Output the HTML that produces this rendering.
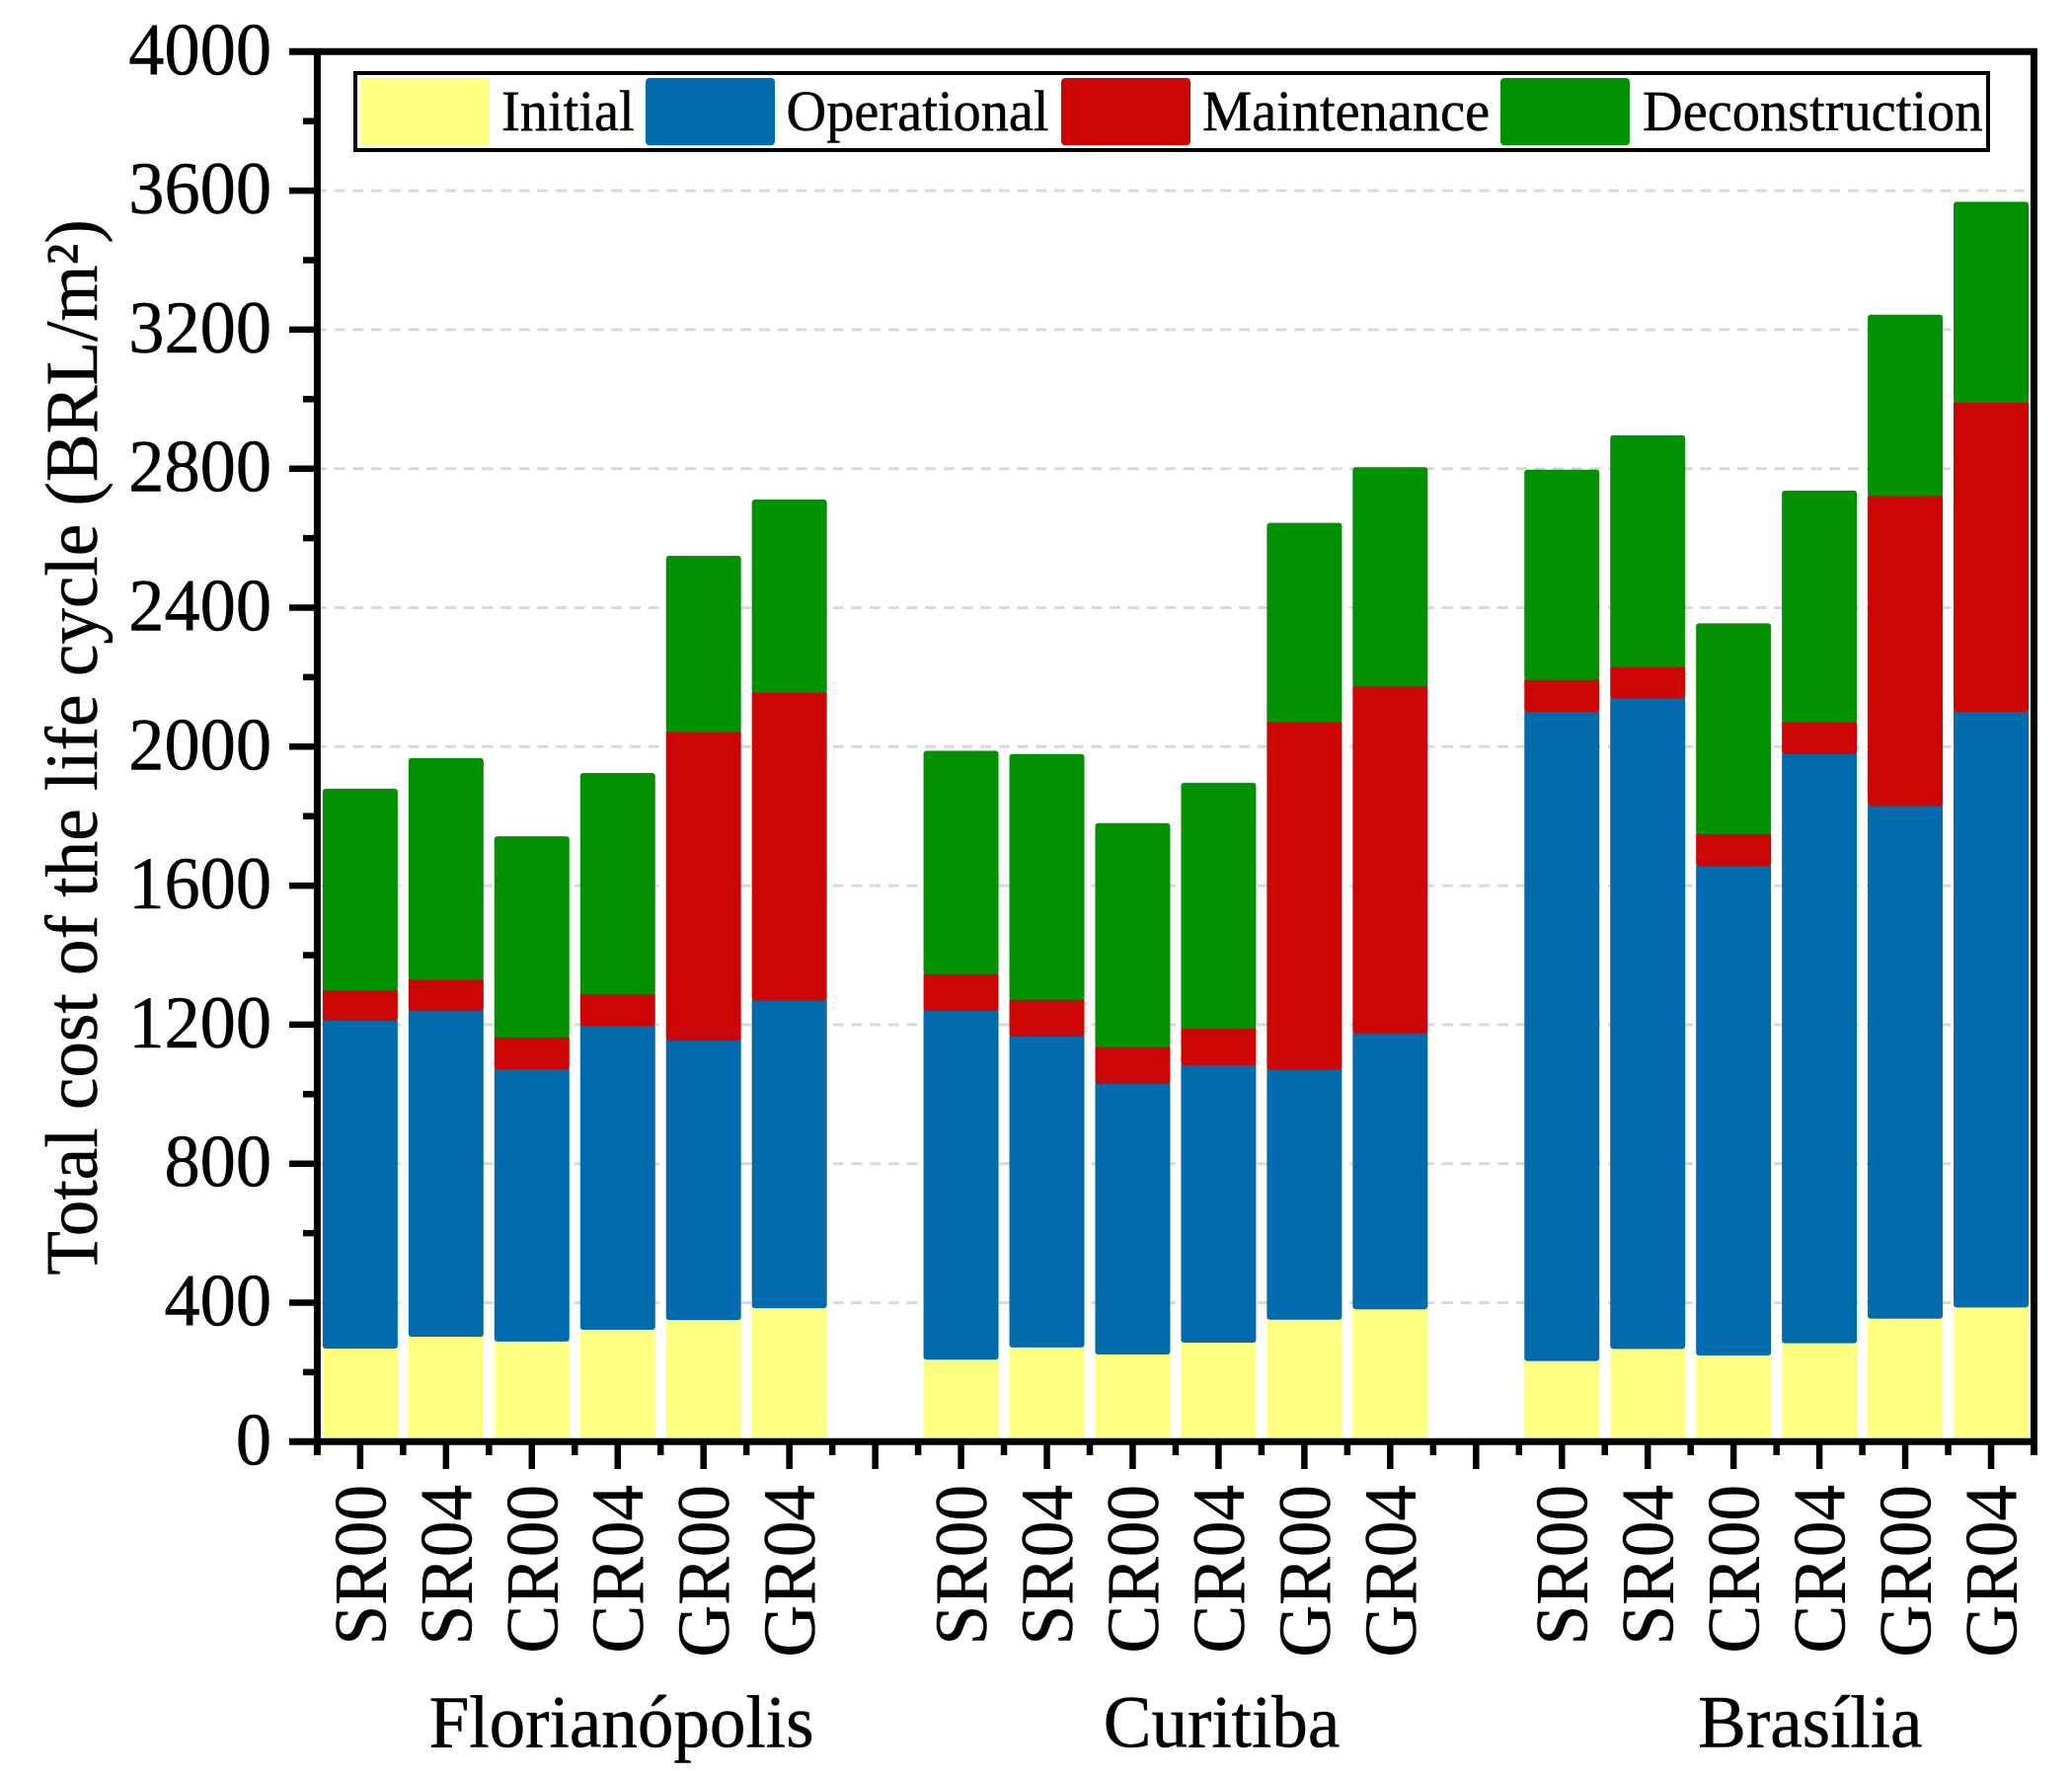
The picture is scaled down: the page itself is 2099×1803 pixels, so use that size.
<!DOCTYPE html>
<html lang="en">
<head>
<meta charset="utf-8">
<title>Total cost of the life cycle</title>
<style>
html,body{margin:0;padding:0;background:#fff;}
svg{display:block;}
text{font-family:"Liberation Serif","Times New Roman",serif;fill:#000;stroke:#000;stroke-width:0.5px;}
</style>
</head>
<body>
<svg id="chart" xmlns="http://www.w3.org/2000/svg" width="2099" height="1803" viewBox="0 0 2099 1803">
  <rect x="0" y="0" width="2099" height="1803" fill="#ffffff"/>
  <g id="grid"></g>
  <g id="bars"></g>
  <g id="axes"></g>
  <text font-size="75" text-anchor="middle" transform="translate(98,757) rotate(-90) scale(0.976,1)">Total cost of the life cycle (BRL/m²)</text>
  <text font-size="75" text-anchor="middle" transform="translate(629.6,1769.6) scale(0.975,1)">Florianópolis</text>
  <text font-size="75" text-anchor="middle" transform="translate(1237.5,1769.6) scale(0.975,1)">Curitiba</text>
  <text font-size="75" text-anchor="middle" transform="translate(1833.8,1769.6) scale(0.975,1)">Brasília</text>
  <g>
    <rect x="360" y="74" width="1654" height="78" fill="#ffffff" stroke="#000000" stroke-width="4"/>
    <rect x="365.3" y="79" width="130.7" height="68.3" rx="4" fill="#FFFF80"/>
    <text font-size="58" transform="translate(508,132) scale(0.972,1)">Initial</text>
    <rect x="654" y="79" width="131" height="68.3" rx="4" fill="#016BAD"/>
    <text font-size="58" transform="translate(796.5,132) scale(0.972,1)">Operational</text>
    <rect x="1075" y="79" width="131" height="68.3" rx="4" fill="#CC0505"/>
    <text font-size="58" transform="translate(1218,132) scale(0.972,1)">Maintenance</text>
    <rect x="1520" y="79" width="131" height="68.3" rx="4" fill="#029102"/>
    <text font-size="58" transform="translate(1664,132) scale(0.972,1)">Deconstruction</text>
  </g>
</svg>
<script>
const categories = ["SR00","SR04","CR00","CR04","GR00","GR04","","SR00","SR04","CR00","CR04","GR00","GR04","","SR00","SR04","CR00","CR04","GR00","GR04"];
const initial = [268,302,288,322,350,384,null,236,271,251,285,351,381,null,232,267,248,283,354,386];
const operational = [943,937,783,874,804,885,null,1004,895,779,798,719,794,null,1868,1872,1408,1695,1475,1714];
const maintenance = [87,90,92,91,888,886,null,105,105,105,105,1000,998,null,92,90,92,92,892,890];
const deconstruction = [581,638,579,637,507,556,null,643,708,645,708,574,631,null,605,667,607,667,522,578];
const yTickLabels = [0,400,800,1200,1600,2000,2400,2800,3200,3600,4000];
const gridValues = [400,800,1200,1600,2000,2400,2800,3200,3600];
const yMinorValues = [200,600,1000,1400,1800,2200,2600,3000,3400,3800];

const NS = "http://www.w3.org/2000/svg";
const plotLeft = 321.4, plotRight = 2060.5, plotTop = 52.3, plotBottom = 1460.3;
const yMax = 4000;
const barWidth = 76;
const slot = (plotRight - plotLeft) / categories.length;

function xCenter(i) { return plotLeft + slot * (i + 0.5); }
function xEdge(i) { return plotLeft + slot * i; }
function yScale(v) { return plotBottom - (plotBottom - plotTop) * v / yMax; }

function make(tag, attrs, parent) {
  const el = document.createElementNS(NS, tag);
  for (const k in attrs) el.setAttribute(k, attrs[k]);
  parent.appendChild(el);
  return el;
}

const gridG = document.getElementById("grid");
const barsG = document.getElementById("bars");
const axesG = document.getElementById("axes");

gridValues.forEach(function (v) {
  const line = make("line", {x1: 325, x2: 2057, y1: yScale(v), y2: yScale(v), stroke: "#d9d9d9", "stroke-width": 3, "stroke-dasharray": "11 7.7", "stroke-dashoffset": 5}, gridG);
  
  
});

const seriesList = [
  {key: "initial", values: initial, color: "#FFFF80"},
  {key: "operational", values: operational, color: "#016BAD"},
  {key: "maintenance", values: maintenance, color: "#CC0505"},
  {key: "deconstruction", values: deconstruction, color: "#029102"}
];

categories.forEach(function (cat, i) {
  if (!cat) return;
  let base = 0;
  seriesList.forEach(function (s, si) {
    const v = s.values[i];
    const top = base + v;
    const overlap = si < seriesList.length - 1 ? 3 : 0;
    const yTop = yScale(top) - overlap;
    const yBottom = yScale(base);
    const rect = make("rect", {x: xCenter(i) - barWidth / 2, y: yTop, width: barWidth, height: yBottom - yTop, rx: 3, ry: 3, fill: s.color}, barsG);
    
    
    base = top;
  });
});

const axisLines = [
  [293, plotTop, 2064, plotTop],
  [293, plotBottom, 2064, plotBottom],
  [plotLeft, plotTop, plotLeft, 1474],
  [plotRight, plotTop, plotRight, 1474]
];
axisLines.forEach(function (a) {
  const line = make("line", {x1: a[0], y1: a[1], x2: a[2], y2: a[3], stroke: "#000", "stroke-width": 7}, axesG);
  
  
});

yTickLabels.forEach(function (v) {
  const y = yScale(v);
  const tick = make("line", {x1: 293, x2: 320, y1: y, y2: y, stroke: "#000", "stroke-width": 6.5}, axesG);
  
  
  const label = make("text", {"font-size": 75, "text-anchor": "end", transform: "translate(275," + (y + 23) + ") scale(0.965,1)"}, axesG);
  
  
  label.textContent = String(v);
});

yMinorValues.forEach(function (v) {
  const y = yScale(v);
  const tick = make("line", {x1: 307, x2: 320, y1: y, y2: y, stroke: "#000", "stroke-width": 6.5}, axesG);
  
  
});

categories.forEach(function (cat, i) {
  const cx = xCenter(i);
  const tick = make("line", {x1: cx, x2: cx, y1: 1460, y2: 1488, stroke: "#000", "stroke-width": 6.5}, axesG);
  
  
  if (i > 0) {
    const ex = xEdge(i);
    const minor = make("line", {x1: ex, x2: ex, y1: 1460, y2: 1474, stroke: "#000", "stroke-width": 6.5}, axesG);
    
    
  }
  if (cat) {
    const label = make("text", {"font-size": 75, "text-anchor": "end", transform: "translate(" + (cx + 25.5) + ",1504) rotate(-90) scale(0.975,1)"}, axesG);
    
    
    label.textContent = cat;
  }
});
</script>
</body>
</html>
